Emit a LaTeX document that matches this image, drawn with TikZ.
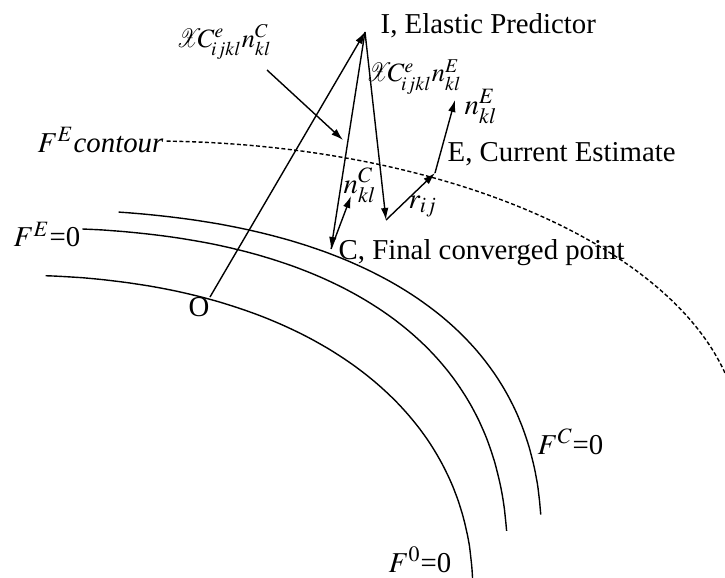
\documentclass[tikz,border=0pt]{standalone}
\usepackage{mathptmx}
\usepackage{graphicx}
\usepackage[no-math]{fontspec}
\setmainfont{Liberation Serif}
\usetikzlibrary{arrows.meta}

\newcommand{\lamsym}{\scalebox{0.8}[1]{$\mathcal{X}$}}

\begin{document}
\begin{tikzpicture}[x=0.5pt, y=-0.5pt, >={Latex[length=6pt,width=3.8pt]},
    line width=0.7pt, font=\fontsize{14.4}{17}\selectfont,
    lbl/.style={inner sep=0pt, anchor=base west},
    lamlbl/.style={lbl, font=\fontsize{13.2}{16}\selectfont},
    contour/.style={dash pattern=on 2pt off 1.2pt}]
  \useasboundingbox (0,0) rectangle (725,578);

  % yield surfaces
  \draw plot[domain=2.78:85.93, samples=90, smooth]
    ({473*pow(cos(\x),0.8889)}, {600-325*pow(sin(\x),0.8889)});
  \draw plot[domain=4.87:84.1, samples=90, smooth]
    ({508*pow(cos(\x),0.8)}, {580-352.5*pow(sin(\x),0.8)});
  \draw plot[domain=4.4:81.5, samples=90, smooth]
    ({542*pow(cos(\x),0.8)}, {560-351*pow(sin(\x),0.8)});
  \draw[contour] plot[domain=12.97:88.5, samples=90, smooth]
    ({150+590*cos(\x)}, {440-299*sin(\x)});

  % points
  \coordinate (O) at (210,297);
  \coordinate (I) at (365,32);
  \coordinate (C) at (331,249);
  \coordinate (P) at (386,220);
  \coordinate (E) at (435,173);
  \coordinate (nE) at (455,100);
  \coordinate (nC) at (351,196);
  \coordinate (lamCtail) at (267,70);
  \coordinate (lamCtip) at (343,140);

  \draw[->] (O) -- (I);
  \draw[->] (I) -- (C);
  \draw[->] (I) -- (P);
  \draw[->] (P) -- (E);
  \draw[->] (E) -- (nE);
  \draw[->] (C) -- (nC);
  \draw[->] (lamCtail) -- (lamCtip);

  % labels
  \node[lbl] (lblI) at (380,33) {I, Elastic Predictor};
  \node[lbl] (lblE) at (447,162) {E, Current Estimate};
  \node[lbl] (lblC) at (338,259) {C, Final converged point};
  \node[lbl] (lblO) at (188,316) {O};
  \node[lbl] (lblcont) at (37,152) {$F^{E}$\textit{contour}};
  \node[lbl] (lblFE) at (13,247) {$F^{E}$=0};
  \node[lbl] (lblFC) at (537,454) {$F^{C}$=0};
  \node[lbl] (lblF0) at (388,572) {$F^{0}$=0};
  \node[lamlbl] (lamC) at (176,47)
    {\lamsym$\mkern-3mu C^{e}_{\mkern-2mu ijkl}n^{C}_{kl}$};
  \node[lamlbl] (lamE) at (366,82)
    {\lamsym$\mkern-3mu C^{e}_{\mkern-2mu ijkl}n^{E}_{kl}$};
  \node[lbl] (lblnE) at (464,114) {$n^{E}_{kl}$};
  \node[lbl] (lblnC) at (343,193) {$n^{C}_{kl}$};
  \node[lbl] (lblr) at (408,208) {$r_{ij}$};
\end{tikzpicture}
\end{document}
